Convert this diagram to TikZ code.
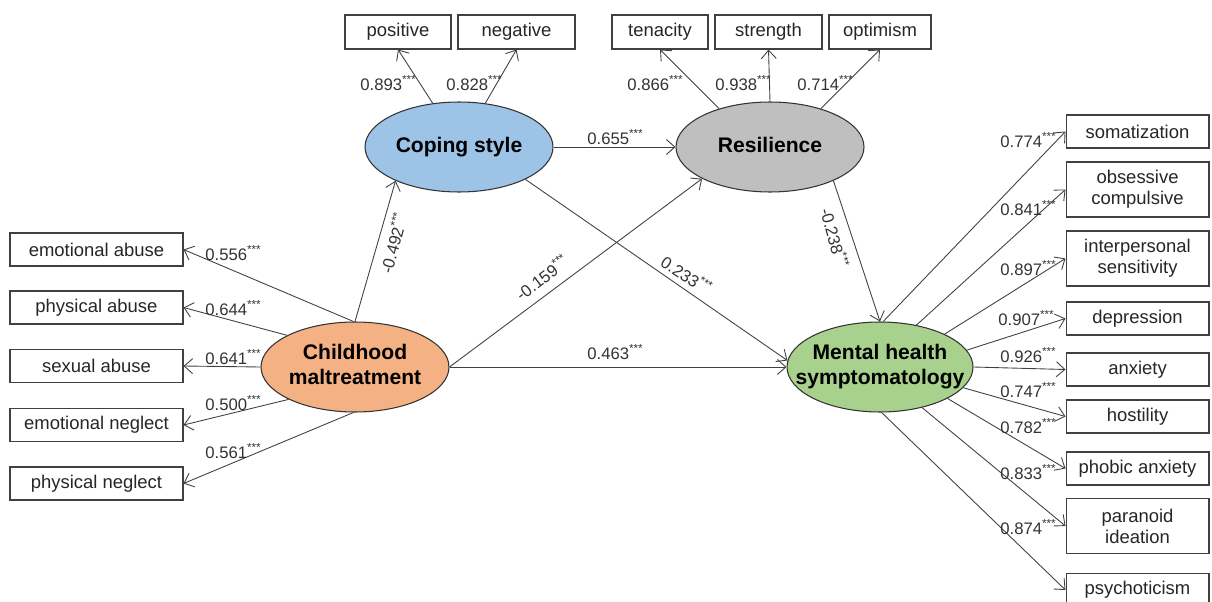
\documentclass[tikz,border=0pt]{standalone}
\usepackage{fontspec}
\setmainfont{Liberation Sans}
\usetikzlibrary{shapes.geometric,arrows.meta}
\definecolor{copeblue}{RGB}{157,195,230}
\definecolor{resgray}{RGB}{191,191,191}
\definecolor{maltorange}{RGB}{244,177,131}
\definecolor{mhgreen}{RGB}{169,209,142}
\definecolor{ink}{RGB}{64,64,64}
\newcommand{\stars}{\textsuperscript{***}}
\newcommand{\latent}[1]{\makebox[0pt]{\begin{tabular}{@{}c@{}}#1\end{tabular}}}

\begin{document}
\begin{tikzpicture}[x=0.02cm, y=-0.02cm,
    obs/.style={draw=ink, line width=0.6pt, fill=white, inner sep=0pt, align=center,
        text=black!85, font=\fontsize{10.5}{12}\selectfont},
    obsl/.style={obs, minimum width=3.46cm, minimum height=0.66cm},
    obsr/.style={obs, minimum width=2.86cm, minimum height=0.66cm},
    obsrr/.style={obsr, minimum height=1.1cm},
    obst/.style={obs, minimum height=0.68cm},
    lat/.style={ellipse, draw=black!80, line width=0.6pt, inner sep=0pt,
        minimum width=3.76cm, minimum height=1.8cm, font=\fontsize{12}{14.5}\selectfont\bfseries},
    coef/.style={inner sep=0pt, anchor=west, text=black!80, font=\fontsize{9.5}{11}\selectfont},
    rcoef/.style={coef, anchor=center},
    arr/.style={draw=ink, line width=0.5pt, -{Straight Barb[length=1.7mm,width=3mm]}}]
    % the frame
    \useasboundingbox (0,0) rectangle (1212,601);
    \clip (0,0) rectangle (1212,601);

    % the latents
    \node[lat, fill=copeblue] (cope) at (459,147) {\latent{Coping style}};
    \node[lat, fill=resgray] (res) at (770,147) {\latent{Resilience}};
    \node[lat, fill=maltorange] (cm) at (355,367) {\latent{Childhood\\maltreatment}};
    \node[lat, fill=mhgreen, minimum width=3.72cm] (mh) at (880,367) {\latent{Mental health\\symptomatology}};

    % the indicators
    \node[obst, minimum width=2.12cm] (pos) at (398,32) {positive};
    \node[obst, minimum width=2.34cm] (neg) at (516.5,32) {negative};
    \node[obst, minimum width=1.92cm] (ten) at (660,32) {tenacity};
    \node[obst, minimum width=2.14cm] (str) at (768.5,32) {strength};
    \node[obst, minimum width=2.04cm] (opt) at (880,32) {optimism};

    \node[obsl] (ea) at (96.5,249.5) {emotional abuse};
    \node[obsl] (pa) at (96.5,307.5) {physical abuse};
    \node[obsl] (sa) at (96.5,366) {sexual abuse};
    \node[obsl] (en) at (96.5,425) {emotional neglect};
    \node[obsl] (pn) at (96.5,483.5) {physical neglect};

    \node[obsr] (som) at (1137.5,131.5) {somatization};
    \node[obsrr] (oc) at (1137.5,189.5) {obsessive\\compulsive};
    \node[obsrr] (ips) at (1137.5,258.5) {interpersonal\\sensitivity};
    \node[obsr] (dep) at (1137.5,318.5) {depression};
    \node[obsr] (anx) at (1137.5,369.5) {anxiety};
    \node[obsr] (hos) at (1137.5,416.5) {hostility};
    \node[obsr] (pho) at (1137.5,468.5) {phobic anxiety};
    \node[obsrr] (par) at (1137.5,526) {paranoid\\ideation};
    \node[obsr] (psy) at (1137.5,590) {psychoticism};

    % the structural paths
    \draw[arr] (cope.east) -- (res.west);
    \draw[arr] (cm.north) -- (cope.208);
    \draw[arr] (cm.east) -- (res.205);
    \draw[arr] (cope.334) -- (mh.176);
    \draw[arr] (res.332) -- (mh.north);
    \draw[arr] (cm.east) -- (mh.west);

    % the loadings
    \draw[arr] (cope.121) -- (pos.south);
    \draw[arr] (cope.59) -- (neg.south);
    \draw[arr] (res.143) -- (ten.south);
    \draw[arr] (res.north) -- (str.south);
    \draw[arr] (res.37) -- (opt.south);

    \draw[arr] (cm.92) -- (ea.east);
    \draw[arr] (cm.155) -- (pa.east);
    \draw[arr] (cm.west) -- (sa.east);
    \draw[arr] (cm.206) -- (en.east);
    \draw[arr] (cm.268) -- (pn.east);

    \draw[arr] (mh.86) -- (som.west);
    \draw[arr] (mh.49) -- (oc.west);
    \draw[arr] (mh.27) -- (ips.west);
    \draw[arr] (mh.11) -- (dep.west);
    \draw[arr] (mh.east) -- (anx.west);
    \draw[arr] (mh.346) -- (hos.west);
    \draw[arr] (mh.335) -- (pho.west);
    \draw[arr] (mh.316) -- (par.west);
    \draw[arr] (mh.272) -- (psy.west);

    % labels
    \node[coef] (lpos) at (360,83) {0.893\stars};
    \node[coef] (lneg) at (446,83) {0.828\stars};
    \node[coef] (lten) at (627,83) {0.866\stars};
    \node[coef] (lstr) at (715,83) {0.938\stars};
    \node[coef] (lopt) at (797,83) {0.714\stars};
    \node[coef] (lcr) at (587,137) {0.655\stars};
    \node[coef] (lcm) at (587,352) {0.463\stars};

    \node[rcoef, rotate=75] (lcc) at (393,243) {-0.492\stars};
    \node[rcoef, rotate=37] (lcres) at (542,277) {-0.159\stars};
    \node[rcoef, rotate=-33] (lcopmh) at (687,275) {0.233\stars};
    \node[rcoef, rotate=-75] (lresmh) at (835,238) {-0.238\stars};

    \node[coef] (lea) at (205,253) {0.556\stars};
    \node[coef] (lpa) at (205,308) {0.644\stars};
    \node[coef] (lsa) at (205,357) {0.641\stars};
    \node[coef] (len) at (205,403) {0.500\stars};
    \node[coef] (lpn) at (205,451) {0.561\stars};

    \node[coef] (lsom) at (1000,140) {0.774\stars};
    \node[coef] (loc) at (1000,208) {0.841\stars};
    \node[coef] (lips) at (1000,268) {0.897\stars};
    \node[coef] (ldep) at (998,318) {0.907\stars};
    \node[coef] (lanx) at (1000,355) {0.926\stars};
    \node[coef] (lhos) at (1000,390) {0.747\stars};
    \node[coef] (lpho) at (1000,426) {0.782\stars};
    \node[coef] (lpar) at (1000,472) {0.833\stars};
    \node[coef] (lpsy) at (1000,527) {0.874\stars};
\end{tikzpicture}
\end{document}
